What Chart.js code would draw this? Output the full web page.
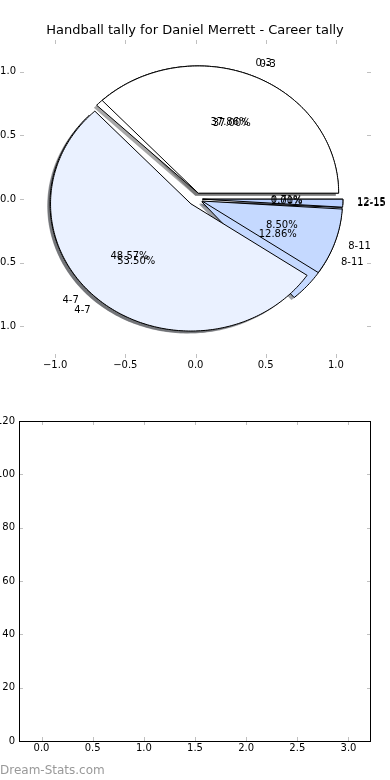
<!DOCTYPE html>
<html>
<head>
<meta charset="utf-8">
<script src="https://cdn.jsdelivr.net/npm/chart.js@4.4.0/dist/chart.umd.min.js"></script>
<style>
    html, body { margin: 0; padding: 0; background: #fff; }
    #wrap { position: relative; width: 390px; height: 780px; }
    canvas { position: absolute; left: 0; }
</style>
</head>
<body>
<div id="wrap">
    <canvas id="pie-chart" width="390" height="390" style="top:0"></canvas>
    <canvas id="empty-chart" width="390" height="390" style="top:390px"></canvas>
</div>
<script>
// --- DATOS ---
const tallyGroups = ['0-3', '4-7', '8-11', '12-15'];
const tallyFirst = [53, 68, 18, 1];
const tallySecond = [74, 107, 17, 2];
const pieTicks = [-1.0, -0.5, 0.0, 0.5, 1.0];
const barXTicks = [0.0, 0.5, 1.0, 1.5, 2.0, 2.5, 3.0];
const barYTicks = [0, 20, 40, 60, 80, 100, 120];

// --- ESTILO ---
const wedgeColors = ['#ffffff', '#eaf1ff', '#c5d9ff', '#b9d0ff'];
const EXPLODE = 0.05, LABEL_DIST = 1.1, PCT_DIST = 0.6, SHADOW_OFF = -0.02;

Chart.defaults.font.family = "'DejaVu Sans'";
Chart.defaults.font.size = 10;
Chart.defaults.color = '#000';

const fmt1 = v => (v < 0 ? '\u2212' : '') + Math.abs(v).toFixed(1);

// cuñas de un pastel (grados, sentido antihorario desde el este)
const buildWedges = (values) => {
    const total = values.reduce((a, b) => a + b, 0);
    let acc = 0;
    return values.map((v, i) => {
        const t1 = acc / total * 360;
        acc += v;
        const t2 = acc / total * 360;
        const mid = (t1 + t2) / 2 * Math.PI / 180;
        return { i, t1, t2, mid, pct: v / total * 100,
                 cx: EXPLODE * Math.cos(mid), cy: EXPLODE * Math.sin(mid) };
    });
};

const tracePath = (ctx, sx, sy, w, ox, oy) => {
    ctx.beginPath();
    ctx.moveTo(sx.getPixelForValue(w.cx + ox), sy.getPixelForValue(w.cy + oy));
    const steps = Math.max(2, Math.ceil(w.t2 - w.t1));
    for (let k = 0; k <= steps; k++) {
        const a = (w.t1 + (w.t2 - w.t1) * k / steps) * Math.PI / 180;
        ctx.lineTo(sx.getPixelForValue(w.cx + ox + Math.cos(a)),
                   sy.getPixelForValue(w.cy + oy + Math.sin(a)));
    }
    ctx.closePath();
};

const shadowOf = (hex) => {
    const n = parseInt(hex.slice(1), 16);
    const r = Math.round(((n >> 16) & 255) * 0.3);
    const g = Math.round(((n >> 8) & 255) * 0.3);
    const b = Math.round((n & 255) * 0.3);
    return `rgba(${r},${g},${b},0.5)`;
};

const pieWedges = {
    id: 'pieWedges',
    afterDatasetsDraw(chart) {
        const { ctx, scales: { x, y } } = chart;
        const pies = [buildWedges(tallyFirst), buildWedges(tallySecond)];
        ctx.save();
        // sombras debajo de todo
        pies.forEach(p => p.forEach(w => {
            tracePath(ctx, x, y, w, SHADOW_OFF, SHADOW_OFF);
            ctx.fillStyle = shadowOf(wedgeColors[w.i]);
            ctx.fill();
        }));
        pies.forEach(p => p.forEach(w => {
            tracePath(ctx, x, y, w, 0, 0);
            ctx.fillStyle = wedgeColors[w.i];
            ctx.fill();
            ctx.strokeStyle = '#000';
            ctx.lineWidth = 1;
            ctx.stroke();
        }));
        ctx.font = "10px 'DejaVu Sans'";
        ctx.fillStyle = '#000';
        ctx.textBaseline = 'middle';
        pies.forEach(p => p.forEach(w => {
            const lx = w.cx + LABEL_DIST * Math.cos(w.mid);
            const ly = w.cy + LABEL_DIST * Math.sin(w.mid);
            ctx.textAlign = lx > 0 ? 'left' : 'right';
            ctx.fillText(tallyGroups[w.i], x.getPixelForValue(lx), y.getPixelForValue(ly));
            const px = w.cx + PCT_DIST * Math.cos(w.mid);
            const py = w.cy + PCT_DIST * Math.sin(w.mid);
            ctx.textAlign = 'center';
            ctx.fillText(w.pct.toFixed(2) + '%', x.getPixelForValue(px), y.getPixelForValue(py));
        }));
        ctx.restore();
    }
};

// marcas de graduación hacia dentro, en los cuatro lados
const insideTicks = {
    id: 'insideTicks',
    afterDraw(chart, args, opts) {
        const { ctx, chartArea: a, scales: { x, y } } = chart;
        const seg = (x1, y1, x2, y2) => { ctx.beginPath(); ctx.moveTo(x1, y1); ctx.lineTo(x2, y2); ctx.stroke(); };
        ctx.save();
        ctx.strokeStyle = '#c0c0c0';
        ctx.lineWidth = 1;
        x.ticks.forEach(t => {
            const p = Math.round(x.getPixelForValue(t.value)) + 0.5;
            seg(p, a.top, p, a.top + 4);
            seg(p, a.bottom, p, a.bottom - 4);
        });
        y.ticks.forEach(t => {
            const p = Math.round(y.getPixelForValue(t.value)) + 0.5;
            seg(a.left, p, a.left + 4, p);
            seg(a.right, p, a.right - 4, p);
        });
        if (opts.frame) {
            ctx.strokeStyle = '#000';
            ctx.strokeRect(a.left + 0.5, a.top + 0.5, a.right - a.left - 1, a.bottom - a.top);
        }
        if (opts.watermark) {
            ctx.font = "12px 'DejaVu Sans'";
            ctx.fillStyle = '#999';
            ctx.textAlign = 'left';
            ctx.textBaseline = 'alphabetic';
            ctx.fillText(opts.watermark, 0, chart.height - 6);
        }
        ctx.restore();
    }
};

const ejeComun = (ticksArr, fmt, fit) => ({
    type: 'linear',
    grid: { display: false, drawTicks: false },
    border: { display: false },
    afterBuildTicks: s => { s.ticks = ticksArr.map(v => ({ value: v })); },
    afterFit: fit,
    ticks: { callback: fmt, autoSkip: false, maxRotation: 0, padding: 4 }
});

// eje derecho vacío que sólo reserva el margen
const ejeDerecho = {
    type: 'linear',
    position: 'right',
    grid: { display: false, drawTicks: false },
    border: { display: false },
    ticks: { display: false },
    afterFit: s => { s.width = 19; }
};

// --- GRÁFICO SUPERIOR (PASTEL) ---
const ejeXPie = ejeComun(pieTicks, fmt1, s => { s.height = 32; });
ejeXPie.min = -1.25; ejeXPie.max = 1.25; ejeXPie.ticks.padding = 1;
const ejeYPie = ejeComun(pieTicks, fmt1, s => { s.width = 20; });
ejeYPie.min = -1.25; ejeYPie.max = 1.25;

new Chart(document.getElementById('pie-chart'), {
    type: 'scatter',
    data: { datasets: [] },
    options: {
        responsive: false,
        animation: false,
        layout: { padding: 0 },
        plugins: {
            legend: { display: false },
            tooltip: { enabled: false },
            title: {
                display: true,
                text: 'Handball tally for Daniel Merrett - Career tally',
                color: '#000',
                font: { size: 13, weight: 'normal' },
                padding: { top: 23, bottom: 1.4 }
            }
        },
        scales: { x: ejeXPie, y: ejeYPie, yDer: ejeDerecho }
    },
    plugins: [pieWedges, insideTicks]
});

// --- GRÁFICO INFERIOR (VACÍO) ---
const ejeXBar = ejeComun(barXTicks, fmt1, s => { s.height = 39; });
ejeXBar.min = -0.22; ejeXBar.max = 3.22; ejeXBar.ticks.padding = 1;
const ejeYBar = ejeComun(barYTicks, v => String(v), s => { s.width = 19; });
ejeYBar.min = 0; ejeYBar.max = 120;

new Chart(document.getElementById('empty-chart'), {
    type: 'scatter',
    data: { datasets: [] },
    options: {
        responsive: false,
        animation: false,
        layout: { padding: { top: 31, right: 0, bottom: 0, left: 0 } },
        plugins: {
            legend: { display: false },
            tooltip: { enabled: false },
            insideTicks: { frame: true, watermark: 'Dream-Stats.com' }
        },
        scales: { x: ejeXBar, y: ejeYBar, yDer: ejeDerecho }
    },
    plugins: [insideTicks]
});
</script>
</body>
</html>
